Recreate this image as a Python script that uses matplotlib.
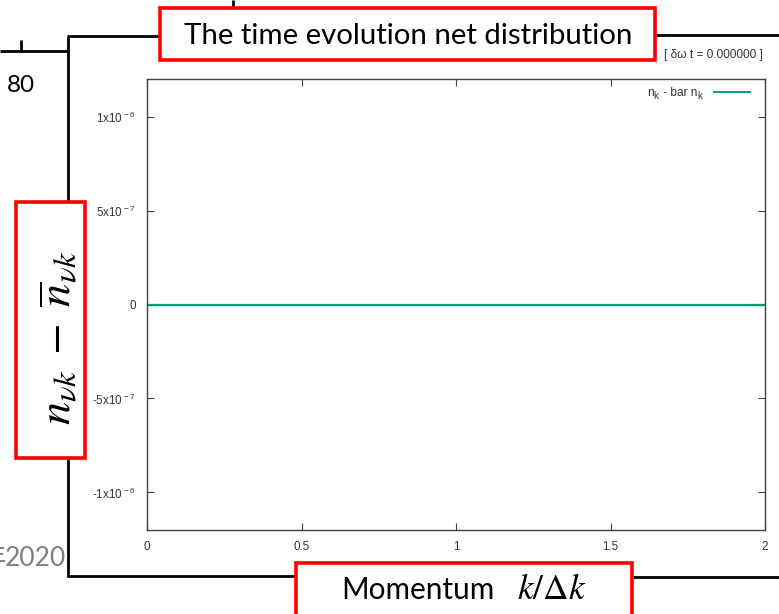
import matplotlib
matplotlib.use("Agg")
import matplotlib.pyplot as plt
from matplotlib.patches import Rectangle

# ---- data ----
momentum = [0.0, 0.25, 0.5, 0.75, 1.0, 1.25, 1.5, 1.75, 2.0]
net_dist = [0.0, 0.0, 0.0, 0.0, 0.0, 0.0, 0.0, 0.0, 0.0]
xticks = [0, 0.5, 1, 1.5, 2]
xticklabels = ["0", "0.5", "1", "1.5", "2"]
yticks = [-1e-6, -5e-7, 0, 5e-7, 1e-6]
yticklabels = ["-1x10$^{\\,-6}$", "-5x10$^{\\,-7}$", "0", "5x10$^{\\,-7}$", "1x10$^{\\,-6}$"]
title_text = "The time evolution net distribution"
xlabel_word = "Momentum"
xlabel_math = r"$k/\Delta k$"
ylabel_math = r"$n_{\nu k}\;-\;\overline{n}_{\nu k}$"
legend_parts = [("n", 0), ("k", 1), (" - bar n", 0), ("k", 1)]
time_text = "[ δω t = 0.000000 ]"

plt.rcParams["font.family"] = ["Liberation Sans", "DejaVu Sans"]
plt.rcParams["mathtext.fontset"] = "custom"
plt.rcParams["mathtext.rm"] = "Liberation Sans"
plt.rcParams["mathtext.it"] = "Liberation Sans:italic"
plt.rcParams["mathtext.bf"] = "Liberation Sans:bold"

W, H = 779, 614
fig = plt.figure(figsize=(W / 100, H / 100), dpi=100)
fig.patch.set_facecolor("white")

# inner gnuplot-like plot
L, R, T, B = 147, 765, 79, 530
ax = fig.add_axes([L / W, 1 - B / H, (R - L) / W, (B - T) / H])
line, = ax.plot(momentum, net_dist, color="#009e73", lw=1.6)
ax.set_xlim(0, 2)
ax.set_ylim(-1.2e-6, 1.2e-6)
ax.set_xticks(xticks)
ax.set_xticklabels(xticklabels)
ax.set_yticks(yticks)
ax.set_yticklabels(yticklabels)
ax.tick_params(direction="in", top=True, right=True, length=5, width=0.8,
               color="#404040", labelsize=8.4, labelcolor="#333333", pad=8)
for s in ax.spines.values():
    s.set_color("#404040")
    s.set_linewidth(1.0)

# overlay in pixel coordinates
ov = fig.add_axes([0, 0, 1, 1], zorder=5)
ov.set_xlim(0, W)
ov.set_ylim(H, 0)
ov.axis("off")

k = dict(color="black", lw=2, solid_capstyle="butt")
ov.plot([0, 68], [51, 51], **k)
ov.plot([21, 21], [40, 51], **k)
ov.plot([68, 68], [36, 577], **k)
ov.plot([67, 160], [36, 36], **k)
ov.plot([656, 779], [35, 35], **k)
ov.plot([67, 296], [576, 576], **k)
ov.plot([633, 779], [577, 577], **k)
ov.plot([233, 233], [0, 7], **k)

def box(x0, y0, x1, y1):
    ov.add_patch(Rectangle((x0, y0), x1 - x0, y1 - y0, facecolor="white",
                           edgecolor="#ff0000", lw=2.6, zorder=3))

box(160, 7.5, 655.5, 59.5)
box(16.5, 201.5, 85, 457.5)
box(296.5, 562.5, 632.5, 640)

rend = fig.canvas.get_renderer()

def fit(t, target, dim="w"):
    bb = t.get_window_extent(rend)
    cur = bb.width if dim == "w" else bb.height
    t.set_fontsize(t.get_fontsize() * target / cur)

# legend (gnuplot style: text then sample line)
ov.plot([714, 750], [92, 92], color=line.get_color(), lw=1.4)
x = 647
for s, sub in legend_parts:
    t = ov.text(x, 96 + (3 if sub else 0), s, fontsize=7.2 if sub else 8.6,
                color="#333333", ha="left", va="baseline", zorder=4)
    x += t.get_window_extent(rend).width + (1 if sub else 0)

t1 = ov.text(408.5, 44, title_text, family=["Lato"], fontsize=20,
             ha="center", va="baseline", zorder=4)
fit(t1, 451)

t2 = ov.text(341, 599, xlabel_word, family=["Lato"], fontsize=20,
             ha="left", va="baseline", zorder=4)
fit(t2, 153)
t3 = ov.text(517, 599, xlabel_math, fontsize=20, math_fontfamily="stix",
             ha="left", va="baseline", zorder=4)
fit(t3, 70)

t4 = ov.text(59, 338, ylabel_math, fontsize=24, math_fontfamily="stix",
             rotation=90, ha="center", va="center", zorder=4)
fit(t4, 176, "h")

ov.text(21, 92, "80", family=["Lato"], fontsize=17.5, ha="center",
        va="baseline", zorder=4)

t6 = ov.text(66, 566, "2020", family=["Lato"], fontsize=22, color="#7f7f7f",
             ha="right", va="baseline", zorder=4)
fit(t6, 61)
ov.text(6, 566, "年", family=["Noto Sans CJK JP"], fontsize=t6.get_fontsize(),
        color="#7f7f7f", ha="right", va="baseline", zorder=4)

t7 = ov.text(763, 55, time_text, fontsize=7, color="#333333",
             ha="right", va="center", zorder=4)
fit(t7, 99)

fig.savefig("out.png", dpi=100)
